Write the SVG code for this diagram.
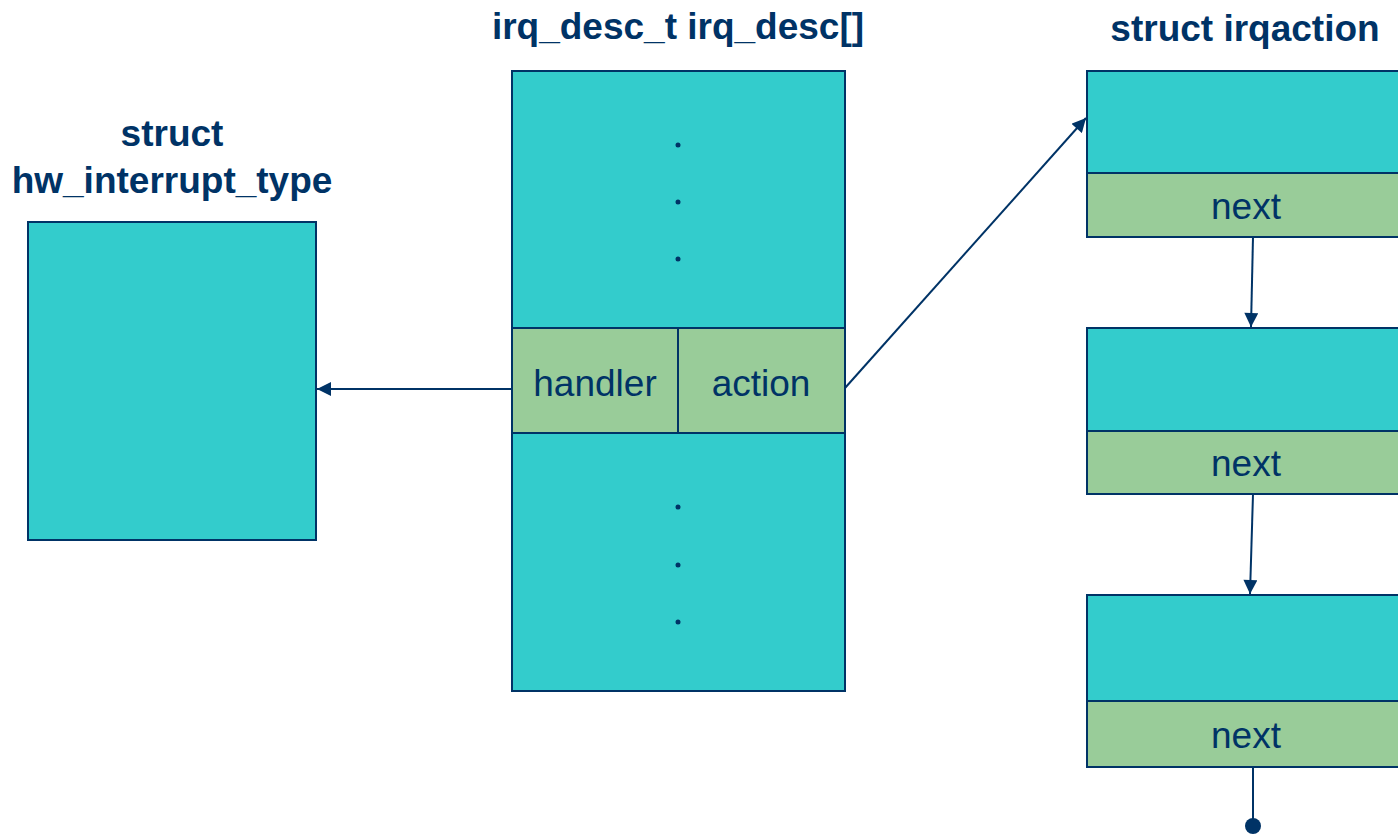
<svg xmlns="http://www.w3.org/2000/svg" width="1398" height="834" viewBox="0 0 1398 834">
  <style>
    .cell { fill: #33CCCC; stroke: #003366; stroke-width: 2; }
    .field { fill: #99CC99; stroke: #003366; stroke-width: 2; }
    .title { font-family: "Liberation Sans", Arial, sans-serif; font-weight: bold; font-size: 37px; fill: #003366; text-anchor: middle; }
    .label { font-family: "Liberation Sans", Arial, sans-serif; font-size: 37px; fill: #003366; text-anchor: middle; }
    .dot { fill: #003366; }
    .link { stroke: #003366; stroke-width: 2; fill: none; }
  </style>
  <defs>
    <marker id="arrow" viewBox="0 0 10 10" refX="10" refY="5" markerWidth="15" markerHeight="14" markerUnits="userSpaceOnUse" orient="auto">
      <path d="M0,0 L10,5 L0,10 Z" fill="#003366"/>
    </marker>
  </defs>
  <rect width="1398" height="834" fill="#ffffff"/>

  <!-- hardware interrupt type structure -->
  <g id="hw_interrupt_type">
    <text class="title" x="172" y="146">struct</text>
    <text class="title" x="172" y="193">hw_interrupt_type</text>
    <rect class="cell" x="28" y="222" width="288" height="318"/>
  </g>

  <!-- descriptor array -->
  <g id="irq_desc">
    <text class="title" x="678" y="39">irq_desc_t irq_desc[]</text>
    <rect class="cell" x="512" y="71" width="333" height="257"/>
    <rect class="field" x="512" y="328" width="166" height="105"/>
    <rect class="field" x="678" y="328" width="167" height="105"/>
    <rect class="cell" x="512" y="433" width="333" height="258"/>
    <text class="label" x="595" y="396">handler</text>
    <text class="label" x="761" y="396">action</text>
    <circle class="dot" cx="678" cy="145" r="2.5"/>
    <circle class="dot" cx="678" cy="202" r="2.5"/>
    <circle class="dot" cx="678" cy="259" r="2.5"/>
    <circle class="dot" cx="678" cy="507" r="2.5"/>
    <circle class="dot" cx="678" cy="565" r="2.5"/>
    <circle class="dot" cx="678" cy="622" r="2.5"/>
  </g>

  <!-- irqaction chain -->
  <g id="irqaction_1">
    <text class="title" x="1245" y="41">struct irqaction</text>
    <rect class="cell" x="1087" y="71" width="320" height="102"/>
    <rect class="field" x="1087" y="173" width="320" height="64"/>
    <text class="label" x="1246" y="219">next</text>
  </g>
  <g id="irqaction_2">
    <rect class="cell" x="1087" y="328" width="320" height="103"/>
    <rect class="field" x="1087" y="431" width="320" height="63"/>
    <text class="label" x="1246" y="476">next</text>
  </g>
  <g id="irqaction_3">
    <rect class="cell" x="1087" y="595" width="320" height="106"/>
    <rect class="field" x="1087" y="701" width="320" height="66"/>
    <text class="label" x="1246" y="748">next</text>
  </g>

  <!-- pointers -->
  <g id="connectors">
    <line class="link" x1="512" y1="389" x2="317" y2="389" marker-end="url(#arrow)"/>
    <line class="link" x1="845" y1="388" x2="1086" y2="118" marker-end="url(#arrow)"/>
    <line class="link" x1="1253" y1="237" x2="1251" y2="327" marker-end="url(#arrow)"/>
    <line class="link" x1="1253" y1="494" x2="1250" y2="594" marker-end="url(#arrow)"/>
    <line class="link" x1="1253" y1="767" x2="1253" y2="826"/>
    <circle class="dot" cx="1253" cy="826" r="8"/>
  </g>
</svg>
